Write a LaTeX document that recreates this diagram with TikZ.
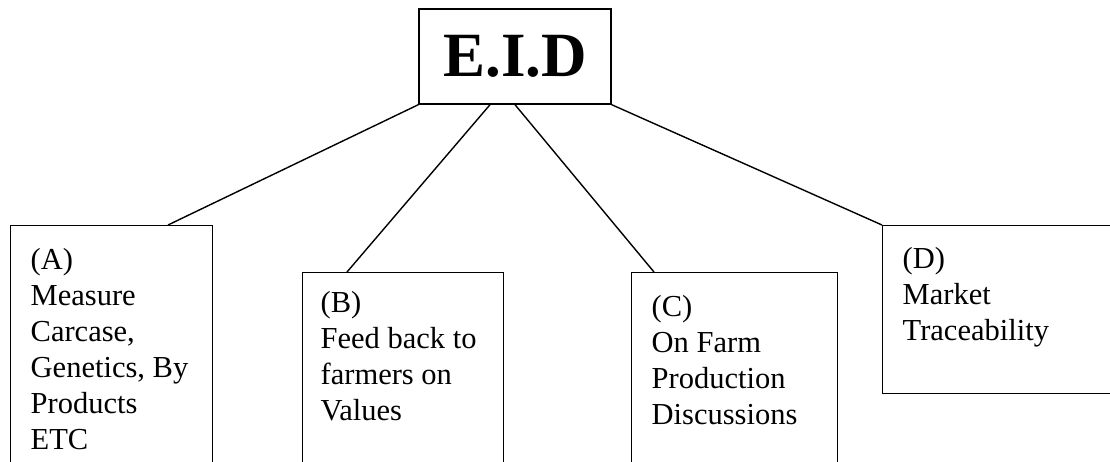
\documentclass[tikz,border=0pt]{standalone}
\usepackage{fontspec}
\setmainfont{Liberation Serif}
\usetikzlibrary{calc}

\begin{document}
\begin{tikzpicture}[x=1pt, y=-1pt, line width=1.4pt,
  branch/.style={rectangle, draw, anchor=north west, minimum height=300pt},
  branchtext/.style={anchor=north west, inner sep=0pt, align=left, font=\fontsize{30.5}{36}\selectfont}]
  \useasboundingbox (0,0) rectangle (1110,461);
  \clip (0,0) rectangle (1110,461);
  \node (eid) [rectangle, draw, minimum width=192pt, minimum height=95pt, font=\fontsize{63}{70}\selectfont\bfseries] at (515,56.5) {E.I.D};
  \node (measure) [branch, minimum width=202pt] at (10,225) {};
  \node (feedback) [branch, minimum width=201pt] at (302,272) {};
  \node (onfarm) [branch, minimum width=206pt] at (631,272) {};
  \node (market) [branch, minimum width=300pt, minimum height=168pt] at (882,225) {};
  \node (measure text) [branchtext] at ($(measure.north west)+(20,23)$) {(A)\\ Measure\\ Carcase,\\ Genetics, By\\ Products\\ ETC};
  \node (feedback text) [branchtext] at ($(feedback.north west)+(18,19)$) {(B)\\ Feed back to\\ farmers on\\ Values};
  \node (onfarm text) [branchtext] at ($(onfarm.north west)+(20,23)$) {(C)\\ On Farm\\ Production\\ Discussions};
  \node (market text) [branchtext] at ($(market.north west)+(20,22)$) {(D)\\ Market\\ Traceability};
  % feet of the connectors
  \coordinate (eid foot) at ($(eid.south)+(-25,0)$);
  \coordinate (measure top) at ($(measure.north west)+(158,0)$);
  \coordinate (feedback top) at ($(feedback.north west)+(45,0)$);
  \coordinate (onfarm top) at ($(onfarm.north west)+(23,0)$);
  \draw (eid.south west) -- (measure top);
  \draw (eid foot) -- (feedback top);
  \draw (eid.south) -- (onfarm top);
  \draw (eid.south east) -- (market.north west);
\end{tikzpicture}
\end{document}
